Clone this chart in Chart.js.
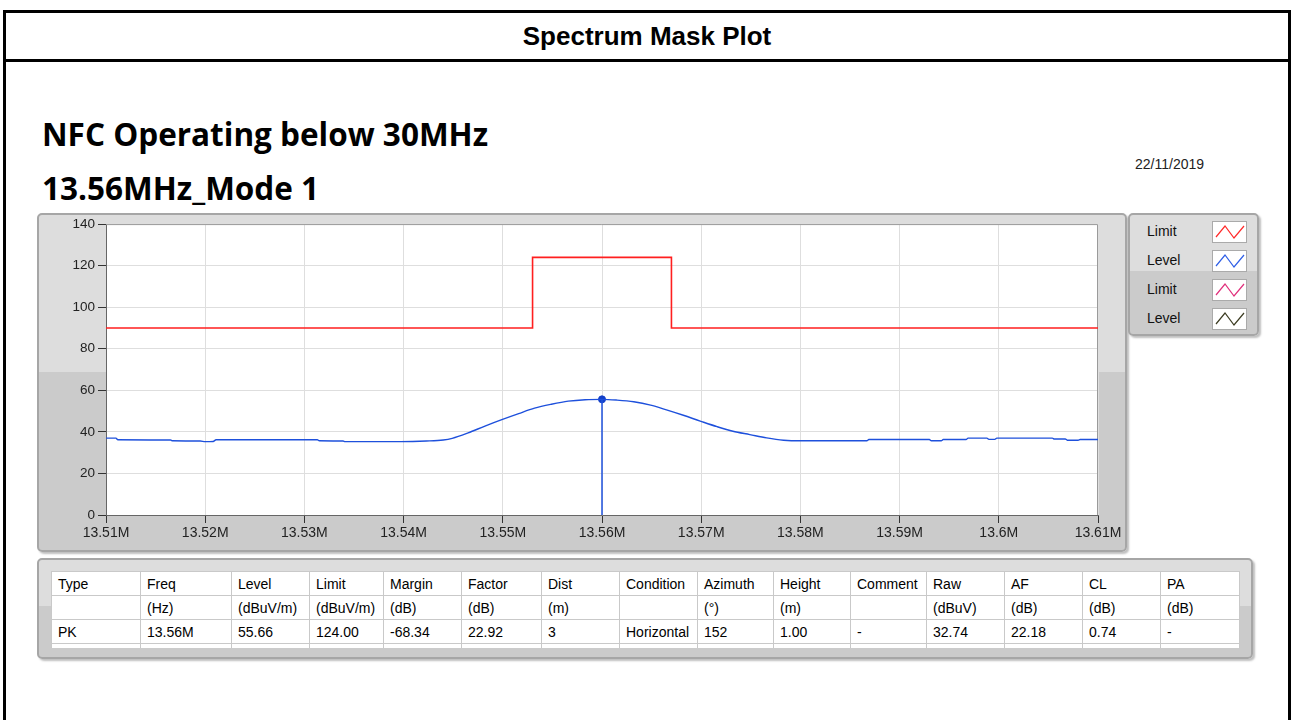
<!DOCTYPE html>
<html><head><meta charset="utf-8">
<script src="https://cdn.jsdelivr.net/npm/chart.js@4.4.1/dist/chart.umd.min.js"></script>
<style>
body{margin:0;width:1293px;height:720px;background:#fff;overflow:hidden;position:relative;font-family:"Liberation Sans",Arial,sans-serif;color:#000;}
#frame{position:absolute;left:3px;top:10px;width:1288px;height:730px;border:3px solid #000;box-sizing:border-box;}
#head{position:absolute;left:0;top:0;right:0;height:49px;border-bottom:3px solid #000;box-sizing:border-box;text-align:center;font-weight:bold;font-size:26px;line-height:46px;}
.h1{position:absolute;left:42px;font-family:"Open Sans",sans-serif;font-weight:bold;font-size:31.5px;line-height:36px;white-space:nowrap;}
#date{position:absolute;left:1135px;top:156px;font-size:14px;color:#222;}
.panel{position:absolute;border:2px solid #a6a6a6;border-radius:5px;box-sizing:border-box;box-shadow:2px 2px 2px rgba(0,0,0,0.25);
 background:linear-gradient(to bottom,#dddddd 0,#dddddd 47%,#cbcbcb 47%,#cbcbcb 100%);}
#chartWrap{position:absolute;left:37px;top:213px;width:1090px;height:338px;}
#legend .item{position:absolute;left:17px;font-size:14px;color:#111;}
#legend svg{position:absolute;left:82px;background:#fff;border:1px solid #aaa;}
#tbl{position:absolute;left:51px;top:571px;border-collapse:collapse;background:#fff;font-size:14px;}
#tbl td{border:1px solid #c9c9c9;padding:0 0 0 6px;height:23px;white-space:nowrap;text-align:left;vertical-align:middle;}
#tbl tr.last td{height:4px;border-bottom:none;}
</style></head>
<body>
<div id="frame"><div id="head">Spectrum Mask Plot</div></div>
<div class="h1" style="top:116px">NFC Operating below 30MHz</div>
<div class="h1" style="top:170px">13.56MHz_Mode 1</div>
<div id="date">22/11/2019</div>
<div class="panel" style="left:37px;top:213px;width:1090px;height:339px;"></div>
<div id="chartWrap"><canvas id="c" width="1090" height="338"></canvas></div>
<div class="panel" id="legend" style="left:1128px;top:213px;width:131px;height:123px;"></div>
<div class="panel" style="left:37px;top:558px;width:1216px;height:101px;"></div>
<table id="tbl"></table>
<script>
// ---- data ----
const xTickValues = [13.51,13.52,13.53,13.54,13.55,13.56,13.57,13.58,13.59,13.60,13.61];
const yTickValues = [0,20,40,60,80,100,120,140];
const limitFreq = [13.51,13.553,13.553,13.567,13.567,13.61];
const limitDb   = [90,90,124,124,90,90];
const levelFreq = [13.5100,13.5110,13.5112,13.5165,13.5167,13.5195,13.5200,13.5208,13.5211,13.5313,13.5315,13.5339,13.5341,13.5397,13.5423,13.5440,13.5449,13.5465,13.5482,13.5499,13.5516,13.5532,13.5549,13.5566,13.5583,13.5600,13.5615,13.5632,13.5649,13.5665,13.5682,13.5699,13.5716,13.5732,13.5749,13.5766,13.5783,13.5800,13.5867,13.5869,13.5930,13.5932,13.5942,13.5944,13.5967,13.5969,13.5988,13.5990,13.5996,13.5998,13.6054,13.6056,13.6067,13.6069,13.6080,13.6082,13.6100];
const levelDb   = [37.0,37.0,36.2,36.1,35.7,35.6,35.3,35.4,36.2,36.2,35.7,35.6,35.3,35.3,35.6,36.1,36.9,39.5,42.8,45.9,48.8,51.4,53.3,54.8,55.5,55.66,55.3,54.5,52.9,50.6,48.0,45.2,42.5,40.3,38.7,37.1,36.0,35.7,35.7,36.3,36.3,35.7,35.7,36.3,36.3,37.0,37.0,36.4,36.4,37.0,37.0,36.6,36.6,36.0,36.0,36.3,36.3];
const markerFreq = 13.56;
const markerLevel = 55.66;
const legendLabels = ["Limit","Level","Limit","Level"];
const legendColors = ["#ff2a2a","#2f5fe6","#e0307c","#3c3c22"];
const tableHeader = ["Type","Freq","Level","Limit","Margin","Factor","Dist","Condition","Azimuth","Height","Comment","Raw","AF","CL","PA"];
const tableUnits  = ["","(Hz)","(dBuV/m)","(dBuV/m)","(dB)","(dB)","(m)","","(°)","(m)","","(dBuV)","(dB)","(dB)","(dB)"];
const tableRow    = ["PK","13.56M","55.66","124.00","-68.34","22.92","3","Horizontal","152","1.00","-","32.74","22.18","0.74","-"];
const colWidths   = [89,91,78,74,78,80,78,78,76,77,76,78,78,78,79];

// ---- legend ----
const lg = document.getElementById('legend');
legendLabels.forEach((t,i)=>{
  const top = 6 + i*29;
  const d = document.createElement('div'); d.className='item'; d.textContent=t; d.style.top=(top+2)+'px'; lg.appendChild(d);
  const s = document.createElementNS('http://www.w3.org/2000/svg','svg');
  s.setAttribute('width','33'); s.setAttribute('height','20'); s.style.top=top+'px';
  s.innerHTML = '<polyline points="3,15 12,4 21,16 31,4" fill="none" stroke="'+legendColors[i]+'" stroke-width="1.2"/>';
  lg.appendChild(s);
});

// ---- table ----
const tb = document.getElementById('tbl');
function addRow(cells, cls){
  const tr = document.createElement('tr'); if(cls) tr.className=cls;
  cells.forEach((c,i)=>{const td=document.createElement('td'); td.textContent=c; td.style.width=(colWidths[i]-7)+'px'; td.style.minWidth=(colWidths[i]-7)+'px'; td.style.maxWidth=(colWidths[i]-7)+'px'; tr.appendChild(td);});
  tb.appendChild(tr);
}
addRow(tableHeader); addRow(tableUnits); addRow(tableRow); addRow(tableHeader.map(()=>''),'last');

// ---- chart ----
const toPts = (xs,ys)=>xs.map((x,i)=>({x:x,y:ys[i]}));
const plotFrame = {
  id:'plotFrame',
  beforeDraw(c){const {ctx,chartArea:a}=c;ctx.save();ctx.fillStyle='#ffffff';ctx.fillRect(a.left,a.top,a.right-a.left,a.bottom-a.top);ctx.restore();},
  beforeDatasetsDraw(c){const {ctx,chartArea:a}=c;ctx.save();ctx.strokeStyle='#9a9a9a';ctx.lineWidth=1;
    ctx.beginPath();ctx.moveTo(a.left,a.top+0.5);ctx.lineTo(a.right-0.5,a.top+0.5);ctx.lineTo(a.right-0.5,a.bottom);ctx.stroke();ctx.restore();}
};
new Chart(document.getElementById('c'),{
  type:'line',
  data:{datasets:[
    {label:'Limit',data:toPts(limitFreq,limitDb),borderColor:'#ff1f1f',borderWidth:1.6,pointRadius:0,tension:0},
    {label:'Level',data:toPts(levelFreq,levelDb),borderColor:'#1e50dc',borderWidth:1.4,pointRadius:0,cubicInterpolationMode:'monotone'},
    {label:'Marker',data:[{x:markerFreq,y:0},{x:markerFreq,y:markerLevel}],borderColor:'#1e50dc',borderWidth:1.5,pointRadius:0},
    {label:'Peak',data:[{x:markerFreq,y:markerLevel}],showLine:false,pointRadius:3.5,pointBackgroundColor:'#1340c8',pointBorderColor:'#1340c8'}
  ]},
  options:{
    responsive:false,animation:false,devicePixelRatio:1,
    layout:{padding:{left:0,right:29,top:11,bottom:0}},
    plugins:{legend:{display:false},tooltip:{enabled:false},title:{display:false}},
    scales:{
      x:{type:'linear',min:13.51,max:13.61,
        afterBuildTicks:s=>{s.ticks=xTickValues.map(v=>({value:v}));},
        afterFit:s=>{s.height=36;},
        ticks:{autoSkip:false,maxRotation:0,padding:2,color:'#222',font:{family:'Liberation Sans',size:14},callback:v=>parseFloat(v.toFixed(2))+'M'},
        grid:{color:'#dedede',lineWidth:1,tickColor:'#333',tickLength:8},
        border:{color:'#666',width:1}},
      y:{min:0,max:140,
        afterBuildTicks:s=>{s.ticks=yTickValues.map(v=>({value:v}));},
        afterFit:s=>{s.width=69;},
        ticks:{padding:3,color:'#222',font:{family:'Liberation Sans',size:13.5}},
        grid:{color:'#dedede',lineWidth:1,tickColor:'#333',tickLength:8},
        border:{color:'#666',width:1}}
    }
  },
  plugins:[plotFrame]
});
</script>
</body></html>
